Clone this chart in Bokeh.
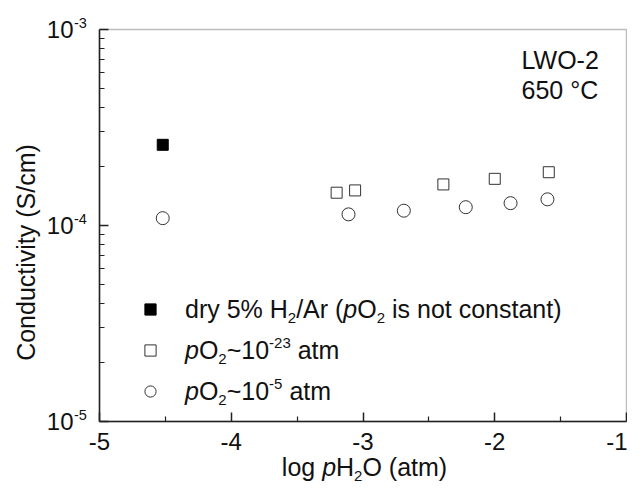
import math
from bokeh.plotting import figure
from bokeh.models import (Range1d, FixedTicker, Label, Legend, LegendItem,
                          CustomJSTickFormatter, BoxAnnotation)
from bokeh.embed import file_html
from bokeh.resources import INLINE

# ---------------- data ----------------
dry_x = [-4.52]
dry_y = [2.58e-4]

low_po2_x = [-3.20, -3.06, -2.39, -2.00, -1.59]
low_po2_y = [1.47e-4, 1.51e-4, 1.62e-4, 1.73e-4, 1.87e-4]

high_po2_x = [-4.52, -3.11, -2.69, -2.22, -1.88, -1.60]
high_po2_y = [1.09e-4, 1.14e-4, 1.19e-4, 1.24e-4, 1.30e-4, 1.36e-4]

x_ticks = [-5, -4, -3, -2, -1]
x_minor = [-4.5, -3.5, -2.5, -1.5]
y_ticks = [1e-5, 1e-4, 1e-3]
y_tick_exponents = ["-5", "-4", "-3"]
y_minor = [2e-5, 3e-5, 4e-5, 5e-5, 6e-5, 7e-5, 8e-5, 9e-5,
           2e-4, 3e-4, 4e-4, 5e-4, 6e-4, 7e-4, 8e-4, 9e-4]

sample_lines = ["LWO-2", "650 °C"]

# ---------------- layout constants (pixels) ----------------
FONT = "Liberation Sans"
TXT = "#111111"
AX = "#222222"
W_TOT, H_TOT = 627, 486
BOX_L, BOX_R, BOX_T, BOX_B = 99, 626, 29, 421   # plot box in canvas pixels
BASE_FIX = 0.36   # Bokeh's alphabetic anchor sits this many em below the drawn baseline

kx = (BOX_R - BOX_L) / (x_ticks[-1] - x_ticks[0])
x0 = x_ticks[0] - BOX_L / kx
x1 = x_ticks[-1] + (W_TOT - BOX_R) / kx
ly_lo, ly_hi = math.log10(y_ticks[0]), math.log10(y_ticks[-1])
ky = (BOX_B - BOX_T) / (ly_hi - ly_lo)
y0 = 10 ** (ly_lo - (H_TOT - BOX_B) / ky)
y1 = 10 ** (ly_hi + BOX_T / ky)

p = figure(width=W_TOT, height=H_TOT, output_backend="svg", toolbar_location=None,
           y_axis_type="log", x_range=Range1d(x0, x1), y_range=Range1d(y0, y1),
           min_border_left=0, min_border_right=0, min_border_top=0,
           min_border_bottom=0)
p.background_fill_color = "white"
p.border_fill_color = "white"
p.outline_line_color = None
p.grid.visible = False

xa, ya = p.xaxis[0], p.yaxis[0]
xa.ticker = FixedTicker(ticks=x_ticks, minor_ticks=x_minor)
ya.ticker = FixedTicker(ticks=y_ticks, minor_ticks=y_minor)
xa.formatter = CustomJSTickFormatter(code="return tick.toString()")
ya.formatter = CustomJSTickFormatter(code="return ''")
xa.fixed_location = y_ticks[0]
ya.fixed_location = x_ticks[0]
xa.bounds = (x_ticks[0], x_ticks[-1])
ya.bounds = (y_ticks[0], y_ticks[-1])
for ax in (xa, ya):
    ax.axis_line_color = AX
    ax.axis_line_width = 1.5
    ax.major_tick_in = 9
    ax.major_tick_out = 0
    ax.minor_tick_in = 5
    ax.minor_tick_out = 0
    ax.major_tick_line_color = AX
    ax.minor_tick_line_color = AX
    ax.major_tick_line_width = 1.5
    ax.minor_tick_line_width = 1.2
xa.major_label_text_font = FONT
xa.major_label_text_font_size = "24px"
xa.major_label_text_color = TXT
xa.major_label_standoff = 11

p.add_layout(BoxAnnotation(left=x_ticks[0], right=x_ticks[-1], bottom=y_ticks[0],
                           top=y_ticks[-1], fill_alpha=0, fill_color=None,
                           line_color=AX, line_width=1.5))

# ---------------- data marks ----------------
r_dry = p.scatter(dry_x, dry_y, marker="square", size=11, fill_color="black",
                  line_color="black", line_width=1)
r_low = p.scatter(low_po2_x, low_po2_y, marker="square", size=11, fill_color=None,
                  line_color="#333333", line_width=1)
r_high = p.scatter(high_po2_x, high_po2_y, marker="circle", size=13, fill_color=None,
                   line_color="#333333", line_width=1)

LEG_X, LEG_ROW0, LEG_PITCH, GLYPH = 150, 309, 41, 28
legend = Legend(items=[LegendItem(label=" ", renderers=[r_dry]),
                       LegendItem(label=" ", renderers=[r_low]),
                       LegendItem(label=" ", renderers=[r_high])],
                location=(LEG_X - GLYPH // 2,
                          H_TOT - (LEG_ROW0 + 2 * LEG_PITCH) - GLYPH // 2),
                glyph_width=GLYPH, glyph_height=GLYPH, label_height=GLYPH,
                label_width=0, spacing=LEG_PITCH - GLYPH, padding=0, margin=0,
                border_line_color=None, background_fill_alpha=0,
                label_text_font_size="10px")
p.add_layout(legend, "center")

# ---------------- rich text helper ----------------
WID = {' ': 278, '(': 333, ')': 333, '%': 889, '-': 333, '/': 278, '~': 584,
       '°': 400, 'A': 667, 'C': 722, 'H': 722, 'L': 556, 'O': 778, 'S': 667,
       'W': 944, 'a': 556, 'c': 500, 'd': 556, 'g': 556, 'i': 222, 'l': 222,
       'm': 833, 'n': 556, 'o': 556, 'p': 556, 'r': 333, 's': 500, 't': 278,
       'u': 556, 'v': 500, 'y': 500}


def tw(s, fs):
    return sum(WID.get(ch, 556) for ch in s) * fs / 1000.0


def label(text, X, Y, size, align="left", style="normal", angle=0.0):
    """X, Y: canvas pixels (top-left origin) of the wanted text baseline."""
    fix = BASE_FIX * size
    if angle:
        X -= fix
    else:
        Y -= fix
    p.add_layout(Label(x=X, y=H_TOT - Y, x_units="screen", y_units="screen",
                       text=text, text_font=FONT, text_font_size=f"{size:.1f}px",
                       text_font_style=style, text_color=TXT, text_align=align,
                       text_baseline="alphabetic", angle=angle))


def rich(pieces, X, Y, fs, align="left"):
    small = 0.6
    sizes = [fs * small if k in ("sub", "sup") else fs for _, k in pieces]
    widths = [tw(t, s) for (t, _), s in zip(pieces, sizes)]
    cx = X - sum(widths) / 2 if align == "center" else X
    for (t, k), s, w in zip(pieces, sizes, widths):
        lead = len(t) - len(t.lstrip(" "))
        dy = {"sub": 0.22 * fs, "sup": -0.42 * fs}.get(k, 0.0)
        txt = t.strip(" ")
        if txt:
            label(txt, cx + tw(" " * lead, s), Y + dy, s,
                  style="italic" if k == "i" else "normal")
        cx += w


FS = 25
# legend texts (baselines a little below marker centres)
TX = 184.5
rich([("dry 5% H", "n"), ("2", "sub"), ("/Ar (", "n"), ("p", "i"), ("O", "n"),
      ("2", "sub"), (" is not constant)", "n")], TX, LEG_ROW0 + 8, FS)
rich([("p", "i"), ("O", "n"), ("2", "sub"), ("~10", "n"), ("-23", "sup"),
      (" atm", "n")], TX, LEG_ROW0 + LEG_PITCH + 8, FS)
rich([("p", "i"), ("O", "n"), ("2", "sub"), ("~10", "n"), ("-5", "sup"),
      (" atm", "n")], TX, LEG_ROW0 + 2 * LEG_PITCH + 8, FS)

# x axis title
rich([("log ", "n"), ("p", "i"), ("H", "n"), ("2", "sub"), ("O (atm)", "n")],
     (BOX_L + BOX_R) / 2 + 1.5, 475, FS, align="center")

# y axis title
label("Conductivity (S/cm)", 34, 252, FS, align="center", angle=math.pi / 2)

# y tick labels 10^n (data-positioned)
for v, e in zip(y_ticks, y_tick_exponents):
    p.add_layout(Label(x=73, y=v, x_units="screen", y_units="data",
                       y_offset=-8.5 + BASE_FIX * 24,
                       text="10", text_font=FONT, text_font_size="24px",
                       text_color=TXT, text_align="right",
                       text_baseline="alphabetic"))
    p.add_layout(Label(x=73.5, y=v, x_units="screen", y_units="data",
                       y_offset=1.5 + BASE_FIX * 14.5,
                       text=e, text_font=FONT, text_font_size="14.5px",
                       text_color=TXT, text_align="left",
                       text_baseline="alphabetic"))

# sample annotation
for i, s in enumerate(sample_lines):
    label(s, 521, 68 + 30 * i, FS)

open("out.html", "w").write(file_html(p, INLINE))
